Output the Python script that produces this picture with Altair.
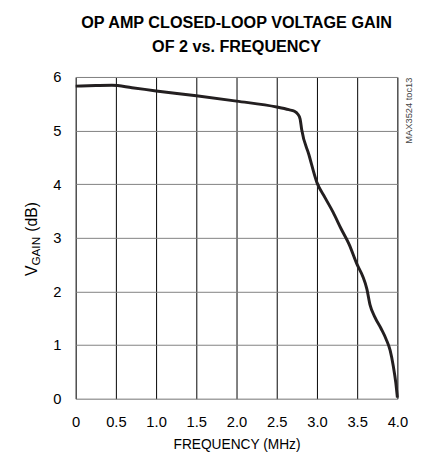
import altair as alt
import pandas as pd

# Data
freq = [0.0, 0.25, 0.45, 0.7, 1.0, 1.5, 2.0, 2.5, 2.65, 2.72, 2.76, 2.79, 2.81,
        2.9, 3.0, 3.1, 3.2, 3.3, 3.4, 3.5, 3.57, 3.62, 3.66, 3.72, 3.8, 3.86,
        3.91, 3.95, 3.98, 4.0]
gain = [5.83, 5.84, 5.845, 5.80, 5.74, 5.65, 5.55, 5.44, 5.39, 5.36, 5.31, 5.22, 5.02,
        4.55, 4.03, 3.75, 3.48, 3.17, 2.88, 2.50, 2.28, 2.05, 1.75, 1.52, 1.30, 1.11,
        0.90, 0.60, 0.30, 0.02]

x_ticks = [0, 0.5, 1.0, 1.5, 2.0, 2.5, 3.0, 3.5, 4.0]
y_ticks = [0, 1, 2, 3, 4, 5, 6]

title_lines = ["OP AMP CLOSED-LOOP VOLTAGE GAIN", "OF 2 vs. FREQUENCY"]
x_title = "FREQUENCY (MHz)"
y_title_parts = ["V", "GAIN", "(dB)"]
side_note = "MAX3524 toc13"

FONT = "Liberation Sans, Arial, Helvetica, sans-serif"
W, H = 328, 328

df = pd.DataFrame({"freq": freq, "gain": gain})

line = alt.Chart(df).mark_line(color="#231f20", strokeWidth=3, interpolate="monotone").encode(
    x=alt.X("freq:Q",
            scale=alt.Scale(domain=[0, 4], nice=False, zero=False),
            axis=alt.Axis(values=x_ticks, grid=True, gridColor="#000000", gridWidth=1,
                          gridOpacity=1, domain=False, ticks=False, tickSize=0,
                          labelExpr="datum.value == 0 ? '0' : format(datum.value, '.1f')",
                          labelFont=FONT, labelFontSize=15, labelColor="#000000",
                          labelPadding=16, labelFlush=False,
                          title=x_title, titleFont=FONT, titleFontSize=14,
                          titleFontWeight="normal", titleColor="#000000", titlePadding=9)),
    y=alt.Y("gain:Q",
            scale=alt.Scale(domain=[0, 6], nice=False, zero=False),
            axis=alt.Axis(values=y_ticks, grid=True, gridColor="#808080", gridWidth=1,
                          gridOpacity=1, domain=False, ticks=False, tickSize=0,
                          labelFont=FONT, labelFontSize=15, labelColor="#000000",
                          labelPadding=15, labelFlush=False, title=None)),
)

# Y-axis title with subscript, built from rotated text pieces
y0 = 277 - 74
yt_v = alt.Chart().mark_text(text=y_title_parts[0], angle=270, align="left", baseline="alphabetic",
                             font=FONT, fontSize=16, color="#000000").encode(
    x=alt.value(-39), y=alt.value(y0))
yt_sub = alt.Chart().mark_text(text=y_title_parts[1], angle=270, align="left", baseline="alphabetic",
                               font=FONT, fontSize=12, color="#000000").encode(
    x=alt.value(-36), y=alt.value(y0 - 10.7))
yt_db = alt.Chart().mark_text(text=y_title_parts[2], angle=270, align="left", baseline="alphabetic",
                              font=FONT, fontSize=16, color="#000000").encode(
    x=alt.value(-39), y=alt.value(y0 - 10.7 - 29.5 - 5))

note = alt.Chart().mark_text(text=side_note, angle=270, align="left", baseline="alphabetic",
                             font=FONT, fontSize=9.5, color="#444444").encode(
    x=alt.value(343), y=alt.value(142 - 74))

chart = alt.layer(line, yt_v, yt_sub, yt_db, note).properties(
    width=W, height=H,
    title=alt.TitleParams(text=title_lines, font=FONT, fontSize=16.5, fontWeight="bold",
                          color="#000000", anchor="middle", lineHeight=24, offset=15),
    autosize=alt.AutoSizeParams(type="none"),
    padding={"left": 69, "top": 66, "right": 20, "bottom": 50},
).configure_view(stroke="#000000", strokeWidth=2.5).configure(background="white")

chart.save("out.html", embed_options={"renderer": "svg", "actions": False})
